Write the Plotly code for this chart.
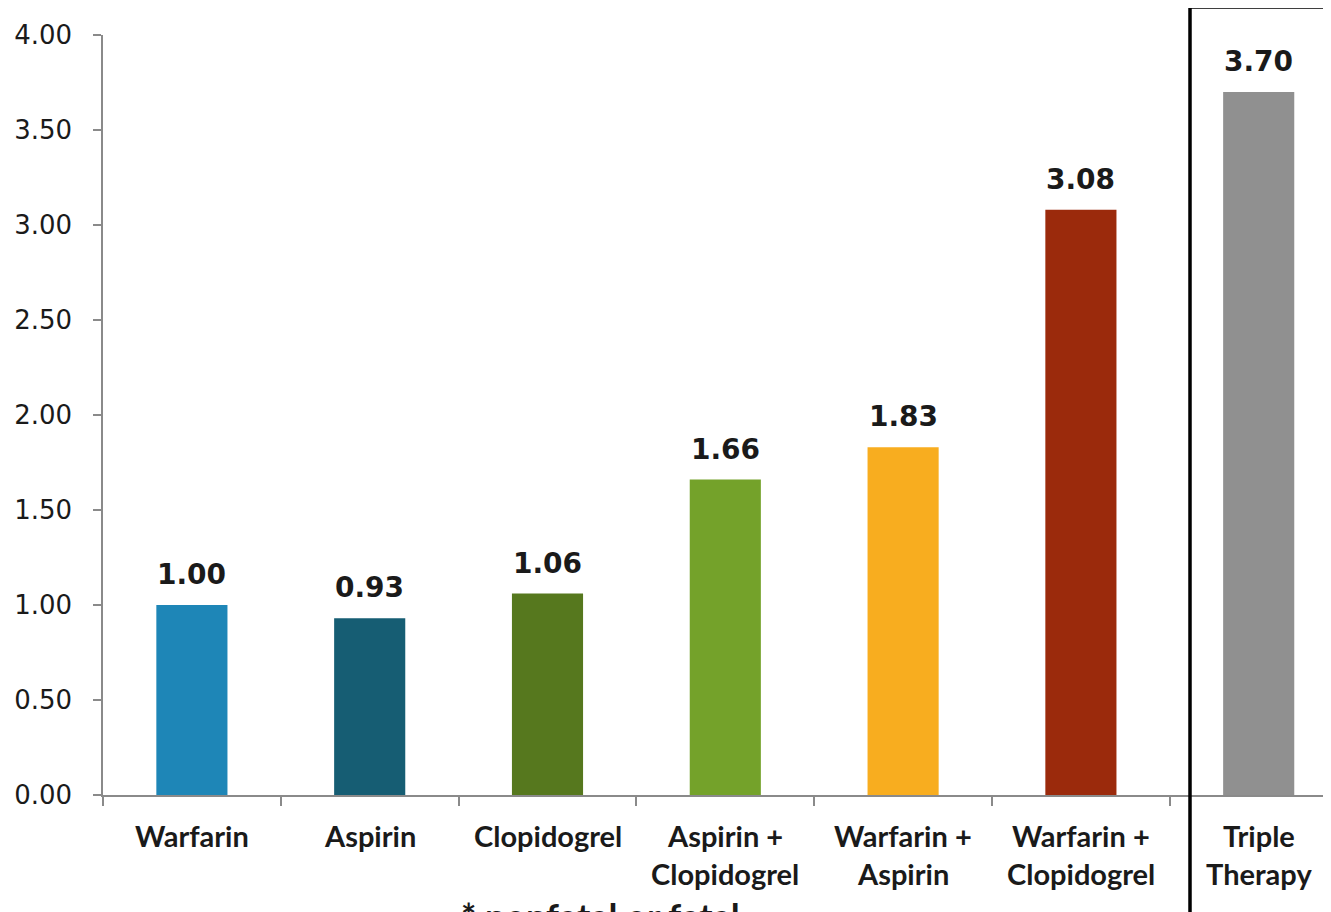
import plotly.graph_objects as go

categories = ["Warfarin", "Aspirin", "Clopidogrel", "Aspirin +\nClopidogrel",
              "Warfarin +\nAspirin", "Warfarin +\nClopidogrel", "Triple\nTherapy"]
values = [1.00, 0.93, 1.06, 1.66, 1.83, 3.08, 3.70]
colors = ["#1E86B7", "#165D73", "#56781E", "#74A22A", "#F8AD1F", "#9B2A0C", "#909090"]
y_ticks = [0, 0.5, 1.0, 1.5, 2.0, 2.5, 3.0, 3.5, 4.0]
footnote = "* nonfatal or fatal"

OFF = 8  # default page body margin
W, H = 1331 - OFF, 912 - OFF
ml, mt, mb = 103 - OFF, 35 - OFF, 117
plot_w = W - ml
plot_h = H - mt - mb
cat_px = 177.8
x_max = -0.5 + plot_w / cat_px

fig = go.Figure()
fig.add_trace(go.Bar(
    x=list(range(len(categories))), y=values, width=0.4,
    marker=dict(color=colors, line=dict(width=0)),
    hoverinfo="skip",
))

ann = []
for i, v in enumerate(values):
    ann.append(dict(x=i, y=v, xref="x", yref="y", text=f"<b>{v:.2f}</b>",
                    showarrow=False, yanchor="bottom", yshift=12,
                    font=dict(family="DejaVu Sans", size=28, color="#1a1a1a")))
    for j, line in enumerate(categories[i].split("\n")):
        ann.append(dict(x=i, y=0, xref="x", yref="paper", text=f"<b>{line}</b>",
                        showarrow=False, yanchor="middle", yshift=-40 - 38 * j,
                        font=dict(family="Lato", size=29, color="#1a1a1a")))

ann.append(dict(x=(600 - ml - OFF) / plot_w, y=0, xref="paper", yref="paper",
                text=f"<b>{footnote}</b>", showarrow=False, yanchor="top",
                xanchor="center", yshift=-97,
                font=dict(family="Lato", size=36, color="#1a1a1a")))

fig.update_layout(
    width=W, height=H,
    margin=dict(l=ml, r=0, t=mt, b=mb, pad=0),
    paper_bgcolor="white", plot_bgcolor="white",
    showlegend=False,
    annotations=ann,
    xaxis=dict(range=[-0.5, x_max], tickvals=[i - 0.5 for i in range(len(categories) + 1)],
               ticktext=[""] * (len(categories) + 1),
               showline=True, linecolor="#8a8a8a", linewidth=1.5,
               ticks="outside", ticklen=9, tickcolor="#8a8a8a", tickwidth=1.5,
               showgrid=False, zeroline=False, fixedrange=True),
    yaxis=dict(range=[0, 4], tickvals=y_ticks, tickformat=".2f",
               showline=True, linecolor="#8a8a8a", linewidth=1.5,
               ticks="outside", ticklen=8, tickcolor="#8a8a8a", tickwidth=1.5,
               ticklabelstandoff=16,
               tickfont=dict(family="DejaVu Sans", size=26, color="#1a1a1a"),
               showgrid=False, zeroline=False, fixedrange=True),
    shapes=[dict(type="rect", xref="paper", yref="paper",
                 x0=(1190 - ml - OFF) / plot_w, x1=1.2,
                 y0=-0.3, y1=(plot_h + mt - (7 - OFF)) / plot_h,
                 line=dict(color="black", width=3.5), fillcolor="rgba(0,0,0,0)",
                 layer="above")],
)

fig.write_html("out.html")
